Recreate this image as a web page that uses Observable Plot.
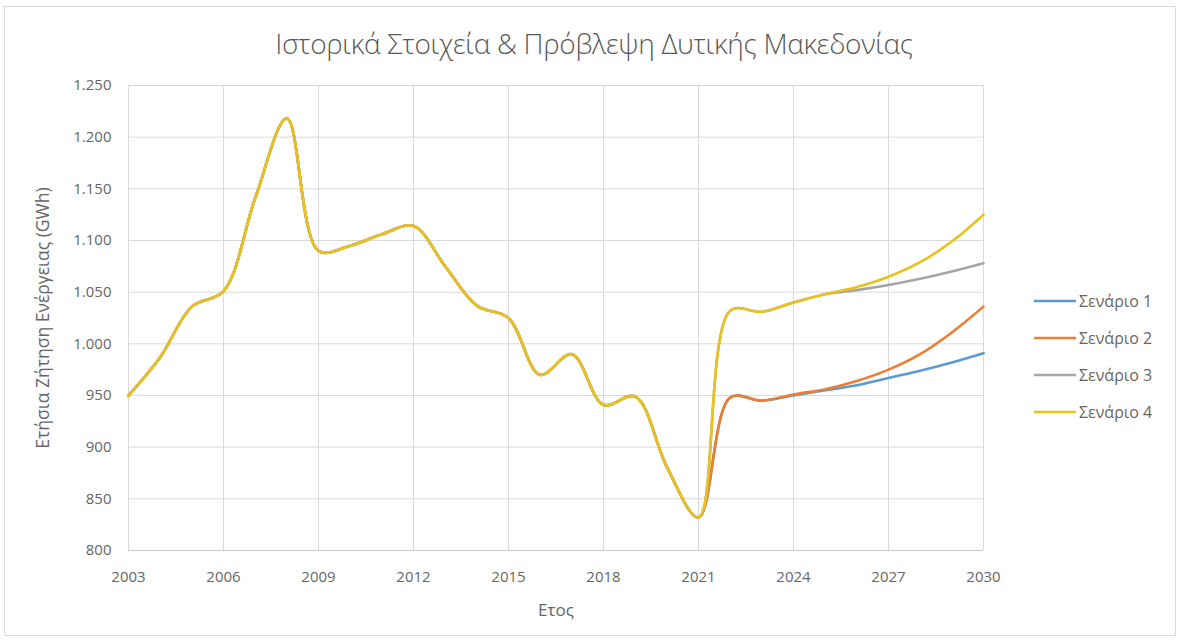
<!DOCTYPE html>
<html>
<head>
<meta charset="utf-8">
<script src="https://cdn.jsdelivr.net/npm/d3@7"></script>
<script src="https://cdn.jsdelivr.net/npm/@observablehq/plot@0.6"></script>
<style>
  body { margin: 0; background: #fff; font-family: "Open Sans", sans-serif; }
  #frame { position: relative; width: 1179px; height: 644px; overflow: hidden; background:#fff; }
  #box { position: absolute; left: 4px; top: 6px; width: 1172px; height: 630px; border: 1px solid #d9d9d9; box-sizing: border-box; }
  #title { position: absolute; left: 0; top: 24px; width: 1188px; text-align: center; font-size: 28px; color: #595959; font-weight: 300; letter-spacing: -0.3px; }
  #chart { position: absolute; left: 0; top: 70px; }
  #legend { position: absolute; left: 1034px; top: 282px; }
  .row { display: flex; align-items: center; height: 37px; font-size: 16px; color: #666; }
  .row svg { margin-right: 3px; }
</style>
</head>
<body>
<div id="frame">
  <div id="box"></div>
  <div id="title">Ιστορικά Στοιχεία &amp; Πρόβλεψη Δυτικής Μακεδονίας</div>
  <div id="chart"></div>
  <div id="legend"></div>
</div>
<script>
// ---- data ----
const histYears = [2003, 2004, 2005, 2006, 2007, 2008, 2009, 2010, 2011, 2012, 2013, 2014, 2015, 2016, 2017, 2018, 2019, 2020, 2021];
const histValues = [950, 987, 1036, 1051, 1141, 1218, 1090, 1095, 1106, 1114, 1075, 1037, 1025, 970, 990, 941, 949, 881, 832];
const forecastYears = [2022, 2023, 2024, 2025, 2026, 2027, 2028, 2029, 2030];
const scenario1 = [948, 945, 950, 955, 960, 967, 974, 982, 991];
const scenario2 = [948, 945, 951, 956, 964, 975, 990, 1011, 1036];
const scenario3 = [1032, 1031, 1040, 1048, 1052, 1057, 1063, 1070, 1078];
const scenario4 = [1032, 1031, 1040, 1048, 1055, 1065, 1079, 1099, 1125];
const seriesNames = ["Σενάριο 1", "Σενάριο 2", "Σενάριο 3", "Σενάριο 4"];
const seriesColors = ["#5B9BD5", "#ED7D31", "#A5A5A5", "#E9C21C"];
const xTicks = [2003, 2006, 2009, 2012, 2015, 2018, 2021, 2024, 2027, 2030];
const yTicks = [800, 850, 900, 950, 1000, 1050, 1100, 1150, 1200, 1250];

// ---- build table ----
const scenarios = [scenario1, scenario2, scenario3, scenario4];
const data = [];
seriesNames.forEach((name, i) => {
  histYears.forEach((yr, j) => data.push({series: name, year: yr, value: histValues[j]}));
  forecastYears.forEach((yr, j) => data.push({series: name, year: yr, value: scenarios[i][j]}));
});

const greek = d3.formatLocale({decimal: ",", thousands: ".", grouping: [3], currency: ["", "€"]}).format(",d");

const chart = Plot.plot({
  width: 1179,
  height: 570,
  marginLeft: 128,
  marginRight: 196,
  marginTop: 15,
  marginBottom: 90,
  style: {fontFamily: "'Open Sans', sans-serif", color: "#666", background: "transparent"},
  x: {domain: [2003, 2030]},
  y: {domain: [800, 1250]},
  color: {domain: seriesNames, range: seriesColors},
  marks: [
    Plot.gridX(xTicks, {stroke: "#d9d9d9", strokeOpacity: 1, strokeWidth: 1}),
    Plot.gridY(yTicks, {stroke: "#d9d9d9", strokeOpacity: 1, strokeWidth: 1}),
    Plot.ruleY([800], {stroke: "#c8c8c8", strokeWidth: 1.2}),
    Plot.axisX(xTicks, {tickSize: 0, tickPadding: 21, tickFormat: d => String(d), fontSize: 15, label: null}),
    Plot.axisX(xTicks, {tickSize: 0, tickFormat: () => "", fontSize: 17,
      label: "Ετος", labelAnchor: "center", labelArrow: "none", labelOffset: 65, dx: 12}),
    Plot.axisY(yTicks, {tickSize: 0, tickPadding: 17, tickFormat: greek, fontSize: 15, label: null}),
    Plot.axisY(yTicks, {tickSize: 0, tickFormat: () => "", fontSize: 17.5,
      label: "Ετήσια Ζήτηση Ενέργειας (GWh)", labelAnchor: "center", labelArrow: "none", labelOffset: 92}),
    Plot.lineY(data, {x: "year", y: "value", z: "series", stroke: "series", curve: "catmull-rom", strokeWidth: 2.6})
  ]
});
document.getElementById("chart").appendChild(chart);

// ---- legend ----
const legend = document.getElementById("legend");
seriesNames.forEach((name, i) => {
  const row = document.createElement("div");
  row.className = "row";
  row.innerHTML = `<svg width="42" height="6"><line x1="0" y1="3" x2="42" y2="3" stroke="${seriesColors[i]}" stroke-width="2.6"/></svg><span>${name}</span>`;
  legend.appendChild(row);
});
</script>
</body>
</html>
